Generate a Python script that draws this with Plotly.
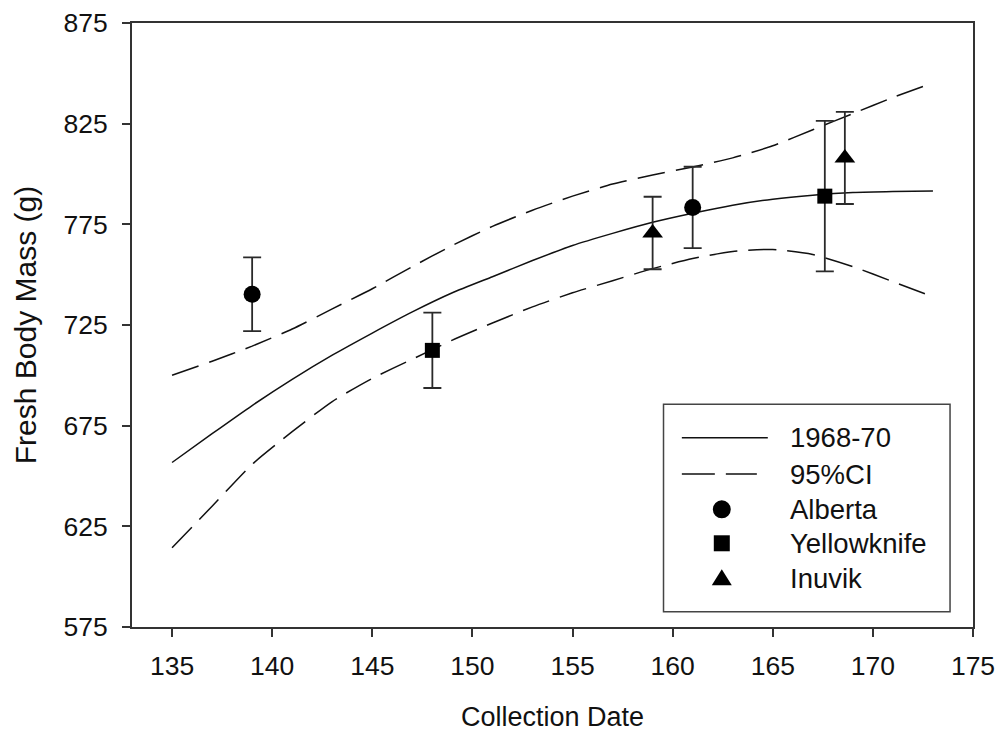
import plotly.graph_objects as go

# ---- data ----
curve_x = [135, 137, 139, 141, 143, 145, 147, 149, 151, 153, 155, 157, 159, 161, 163, 165, 167, 169, 171, 173]
fit_1968_70 = [656.7, 671.0, 685.0, 698.0, 710.0, 721.0, 731.5, 741.0, 749.0, 757.0, 764.5, 770.5, 776.0,
               780.5, 784.5, 787.5, 789.5, 790.8, 791.3, 791.5]
ci_upper = [700.0, 707.0, 714.5, 723.0, 733.0, 743.0, 754.0, 764.5, 774.0, 782.0, 789.0, 795.0, 799.5,
            803.5, 808.0, 814.0, 822.0, 830.0, 838.0, 845.3]
ci_lower = [614.4, 635.0, 655.8, 672.0, 687.0, 698.5, 708.0, 717.5, 726.0, 734.0, 741.0, 747.0, 753.0,
            758.0, 761.5, 762.5, 760.0, 754.0, 746.5, 739.0]

alberta_x = [139, 161]
alberta_y = [740.3, 783.4]
alberta_err = [18.3, 20.2]

yellowknife_x = [148, 167.6]
yellowknife_y = [712.4, 789.0]
yellowknife_err = [18.7, 37.4]

inuvik_x = [159, 168.6]
inuvik_y = [770.7, 808.0]
inuvik_err = [18.0, 22.9]

x_ticks = [135, 140, 145, 150, 155, 160, 165, 170, 175]
y_ticks = [575, 625, 675, 725, 775, 825, 875]

legend_names = ["1968-70", "95%CI", "Alberta", "Yellowknife", "Inuvik"]

FONT = "Arial, Liberation Sans, sans-serif"
INK = "#111111"
AX = "#333333"

fig = go.Figure()

fig.add_trace(go.Scatter(x=curve_x, y=fit_1968_70, mode="lines", name=legend_names[0],
                         line=dict(color=INK, width=1.5, shape="spline", smoothing=0.6), showlegend=False))
fig.add_trace(go.Scatter(x=curve_x, y=ci_upper, mode="lines", name=legend_names[1],
                         line=dict(color=INK, width=1.5, dash="28px,11px", shape="spline", smoothing=0.6),
                         showlegend=False))
fig.add_trace(go.Scatter(x=curve_x, y=ci_lower, mode="lines", name=legend_names[1],
                         line=dict(color=INK, width=1.5, dash="28px,11px", shape="spline", smoothing=0.6),
                         showlegend=False))

err_style = dict(type="data", color="#2a2a2a", thickness=1.8, width=9)

fig.add_trace(go.Scatter(x=alberta_x, y=alberta_y, mode="markers", name=legend_names[2],
                         marker=dict(symbol="circle", size=17, color="black"),
                         error_y=dict(array=alberta_err, **err_style), showlegend=False))
fig.add_trace(go.Scatter(x=yellowknife_x, y=yellowknife_y, mode="markers", name=legend_names[3],
                         marker=dict(symbol="square", size=15, color="black"),
                         error_y=dict(array=yellowknife_err, **err_style), showlegend=False))
fig.add_trace(go.Scatter(x=inuvik_x, y=inuvik_y, mode="markers", name=legend_names[4],
                         marker=dict(symbol="triangle-up", size=18, color="black"),
                         error_y=dict(array=inuvik_err, **err_style), showlegend=False))

# ---- hand-built legend box (paper coordinates of the plot area) ----
shapes = []
shapes.append(dict(type="rect", xref="paper", yref="paper", x0=0.632, x1=0.9727, y0=0.0253, y1=0.3687,
                   line=dict(color="#444444", width=1.5), fillcolor="white", layer="above"))
row_y = [0.3134, 0.2533, 0.1949, 0.1386, 0.0806]
shapes.append(dict(type="line", xref="paper", yref="paper", x0=0.6538, x1=0.756, y0=row_y[0], y1=row_y[0],
                   line=dict(color=INK, width=1.5), layer="above"))
shapes.append(dict(type="line", xref="paper", yref="paper", x0=0.6538, x1=0.7430, y0=row_y[1], y1=row_y[1],
                   line=dict(color=INK, width=1.5, dash="33px,11px"), layer="above"))
mx = 0.7013
shapes.append(dict(type="circle", xref="paper", yref="paper", xsizemode="pixel", ysizemode="pixel",
                   xanchor=mx, yanchor=row_y[2], x0=-9, x1=9, y0=-9, y1=9,
                   fillcolor="black", line=dict(width=0), layer="above"))
shapes.append(dict(type="rect", xref="paper", yref="paper", xsizemode="pixel", ysizemode="pixel",
                   xanchor=mx, yanchor=row_y[3], x0=-8, x1=8, y0=-8, y1=8,
                   fillcolor="black", line=dict(width=0), layer="above"))
shapes.append(dict(type="path", xref="paper", yref="paper", xsizemode="pixel", ysizemode="pixel",
                   xanchor=mx, yanchor=row_y[4], path="M-10,-7 L10,-7 L0,9 Z",
                   fillcolor="black", line=dict(width=0), layer="above"))

annotations = []
for name, yy in zip(legend_names, row_y):
    annotations.append(dict(x=0.7805, y=yy, xref="paper", yref="paper", text=name, showarrow=False,
                            xanchor="left", yanchor="middle", font=dict(family=FONT, size=27.5, color=INK)))

fig.update_layout(
    width=1000, height=732,
    margin=dict(l=132, r=27, t=23, b=105, autoexpand=False),
    paper_bgcolor="white", plot_bgcolor="white",
    font=dict(family=FONT, size=26, color=INK),
    shapes=shapes, annotations=annotations,
    showlegend=False,
)
fig.update_xaxes(range=[133, 175], tickvals=x_ticks, ticks="outside", ticklen=8, tickwidth=1.5,
                 tickcolor=AX, showline=True, linecolor=AX, linewidth=2, mirror=True,
                 showgrid=False, zeroline=False, ticklabelstandoff=6,
                 title=dict(text="Collection Date", font=dict(family=FONT, size=27), standoff=33),
                 tickfont=dict(family=FONT, size=26.5, color=INK))
fig.update_yaxes(range=[575, 875], tickvals=y_ticks, ticks="outside", ticklen=8, tickwidth=1.5,
                 tickcolor=AX, showline=True, linecolor=AX, linewidth=2, mirror=True,
                 showgrid=False, zeroline=False, ticklabelstandoff=9,
                 title=dict(text="Fresh Body Mass (g)", font=dict(family=FONT, size=30), standoff=18),
                 tickfont=dict(family=FONT, size=26.5, color=INK))

fig.write_html("out.html", config={"displayModeBar": False},
               post_script="document.body.style.margin='0px';")
